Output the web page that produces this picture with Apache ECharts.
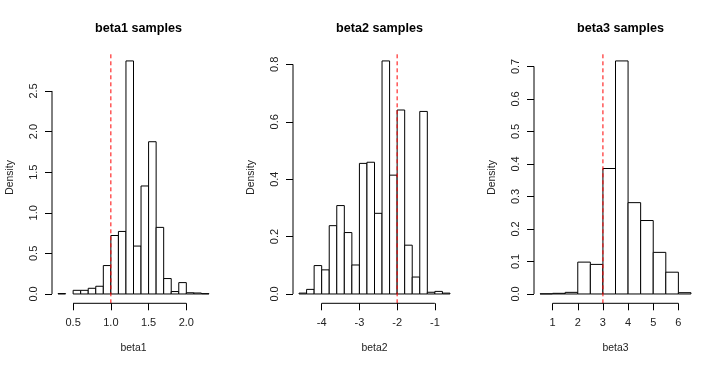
<!DOCTYPE html>
<html>
<head>
<meta charset="utf-8">
<script src="https://cdn.jsdelivr.net/npm/echarts@6/dist/echarts.min.js"></script>
<style>
  html, body { margin: 0; padding: 0; background: #fff; }
  #main { width: 723px; height: 368px; }
</style>
</head>
<body>
<div id="main"></div>
<script>
// histogram breaks + densities
var beta1Breaks = [0.3, 0.4, 0.5, 0.6, 0.7, 0.8, 0.9, 1.0, 1.1, 1.2, 1.3, 1.4, 1.5, 1.6, 1.7, 1.8, 1.9, 2.0, 2.1, 2.2, 2.3];
var beta1Density = [0.005, 0, 0.045, 0.045, 0.07, 0.095, 0.35, 0.72, 0.77, 2.87, 0.59, 1.33, 1.875, 0.82, 0.19, 0.03, 0.14, 0.015, 0.012, 0.004];
var beta2Breaks = [-4.6, -4.4, -4.2, -4.0, -3.8, -3.6, -3.4, -3.2, -3.0, -2.8, -2.6, -2.4, -2.2, -2.0, -1.8, -1.6, -1.4, -1.2, -1.0, -0.8, -0.6];
var beta2Density = [0.003, 0.016, 0.099, 0.084, 0.238, 0.308, 0.214, 0.101, 0.455, 0.459, 0.281, 0.812, 0.414, 0.641, 0.17, 0.059, 0.636, 0.006, 0.009, 0.003];
var beta3Breaks = [0.5, 1.0, 1.5, 2.0, 2.5, 3.0, 3.5, 4.0, 4.5, 5.0, 5.5, 6.0, 6.5];
var beta3Density = [0.0005, 0.002, 0.005, 0.098, 0.091, 0.386, 0.717, 0.281, 0.226, 0.128, 0.067, 0.004];

var beta1XTicks = [0.5, 1.0, 1.5, 2.0];
var beta1YTicks = [0, 0.5, 1.0, 1.5, 2.0, 2.5];
var beta2XTicks = [-4, -3, -2, -1];
var beta2YTicks = [0, 0.2, 0.4, 0.6, 0.8];
var beta3XTicks = [1, 2, 3, 4, 5, 6];
var beta3YTicks = [0, 0.1, 0.2, 0.3, 0.4, 0.5, 0.6, 0.7];

var names = ['beta1', 'beta2', 'beta3'];
var trueValues = [1, -2, 3];

var panels = [
    {breaks: beta1Breaks, dens: beta1Density, xt: beta1XTicks, yt: beta1YTicks, xd: 1, yd: 1},
    {breaks: beta2Breaks, dens: beta2Density, xt: beta2XTicks, yt: beta2YTicks, xd: 0, yd: 1},
    {breaks: beta3Breaks, dens: beta3Density, xt: beta3XTicks, yt: beta3YTicks, xd: 0, yd: 1}
];

var FONT = 'Liberation Sans, Arial, sans-serif';
var chart = echarts.init(document.getElementById('main'));

var grids = [], xAxes = [], yAxes = [], titles = [], series = [];

function fmt(d) {
    return function (v) { return v.toFixed(d); };
}

function segment(i, pts, color, dash) {
    return {
        type: 'line', xAxisIndex: i, yAxisIndex: i, silent: true, clip: false,
        symbol: 'none', z: 5,
        lineStyle: {color: color, width: 1, type: dash || 'solid'},
        data: pts
    };
}

panels.forEach(function (p, i) {
    var lo = p.breaks[0], hi = p.breaks[p.breaks.length - 1];
    var ymax = Math.max.apply(null, p.dens);
    // R style 4% extension
    var xmin = lo - 0.04 * (hi - lo), xmax = hi + 0.04 * (hi - lo);
    var ymin = -0.04 * ymax, ytop = 1.04 * ymax;
    var left = 52 + 241 * i;

    grids.push({left: left, top: 51.6, width: 163, height: 251.7});
    titles.push({
        text: names[i] + ' samples',
        left: left + 81.5, top: 17, textAlign: 'center',
        textStyle: {fontFamily: FONT, fontSize: 12.6, fontWeight: 'bold', color: '#000'}
    });
    xAxes.push({
        type: 'value', gridIndex: i, min: xmin, max: xmax,
        name: names[i], nameLocation: 'middle', nameGap: 40,
        nameTextStyle: {fontFamily: FONT, fontSize: 10.4, color: '#222'},
        axisLine: {show: false, onZero: false},
        splitLine: {show: false},
        axisTick: {show: true, length: 7, customValues: p.xt, lineStyle: {color: '#000'}},
        axisLabel: {
            customValues: p.xt, margin: 14,
            fontFamily: FONT, fontSize: 11, color: '#222',
            formatter: fmt(p.xd)
        }
    });
    yAxes.push({
        type: 'value', gridIndex: i, min: ymin, max: ytop,
        name: 'Density', nameLocation: 'middle', nameGap: 37,
        nameTextStyle: {fontFamily: FONT, fontSize: 10.4, color: '#222'},
        axisLine: {show: false, onZero: false},
        splitLine: {show: false},
        axisTick: {show: true, length: 7, customValues: p.yt, lineStyle: {color: '#000'}},
        axisLabel: {
            customValues: p.yt, margin: 13, rotate: 90,
            fontFamily: FONT, fontSize: 11, color: '#222',
            formatter: fmt(p.yd)
        }
    });

    var bins = [];
    for (var k = 0; k < p.dens.length; k++)
        bins.push([p.breaks[k], p.breaks[k + 1], p.dens[k]]);

    series.push({
        type: 'custom', xAxisIndex: i, yAxisIndex: i, silent: true,
        data: bins,
        encode: {x: [0, 1], y: 2},
        renderItem: function (params, api) {
            if (api.value(2) <= 0) return;
            var a = api.coord([api.value(0), 0]);
            var b = api.coord([api.value(1), api.value(2)]);
            return {
                type: 'rect',
                shape: {x: a[0], y: b[1], width: b[0] - a[0], height: a[1] - b[1]},
                style: {fill: '#fff', stroke: '#000', lineWidth: 1}
            };
        }
    });
    // abline(v = true value)
    series.push(segment(i, [[trueValues[i], ymin], [trueValues[i], ytop]], '#ff0000', [4, 3]));
    // axis lines that only span the ticks (like R)
    series.push(segment(i, [[p.xt[0], ymin], [p.xt[p.xt.length - 1], ymin]], '#000'));
    series.push(segment(i, [[xmin, p.yt[0]], [xmin, p.yt[p.yt.length - 1]]], '#000'));
});

chart.setOption({
    animation: false,
    backgroundColor: '#fff',
    title: titles,
    grid: grids,
    xAxis: xAxes,
    yAxis: yAxes,
    series: series
});
</script>
</body>
</html>
